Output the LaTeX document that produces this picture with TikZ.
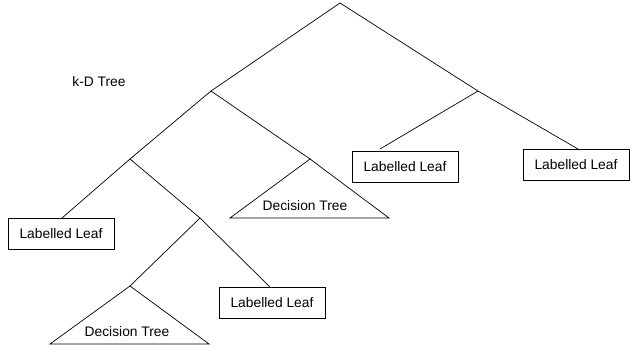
\documentclass[tikz,border=0pt]{standalone}
\usepackage{fontspec}
\setmainfont{Liberation Sans}
\begin{document}
\begin{tikzpicture}[x=1pt,y=-1pt,
  edge/.style={draw=black,line width=0.7pt},
  leafbox/.style={draw=black,line width=0.7pt,rectangle,minimum width=106pt,minimum height=31pt,inner sep=0pt,font=\fontsize{13.8}{16}\selectfont},
  lbl/.style={inner sep=0pt,font=\fontsize{13.8}{16}\selectfont}]
\useasboundingbox (0,0) rectangle (638,347);
% internal points
\coordinate (r) at (340,3);
\coordinate (a) at (211,91);
\coordinate (c) at (478,91);
\coordinate (d) at (130,159);
\coordinate (e) at (200,218);
% leaves
\node[leafbox] (b1) at (61,233.5) {Labelled Leaf};
\node[leafbox] (b2) at (272,303) {Labelled Leaf};
\node[leafbox] (b3) at (405,166.5) {Labelled Leaf};
\node[leafbox] (b4) at (576,164.5) {Labelled Leaf};
\coordinate (b1t) at (62,218);
\coordinate (b2t) at (270,287);
\coordinate (b3t) at (380,149);
\coordinate (b4t) at (578,149);
% decision triangles
\coordinate (t1a) at (310,159);
\coordinate (t1l) at (230,218);
\coordinate (t1r) at (389,218);
\coordinate (t2a) at (130,286);
\coordinate (t2l) at (50,344);
\coordinate (t2r) at (209,344);
\draw[edge,line join=miter] (t1a) -- (t1l) -- (t1r) -- cycle;
\draw[edge,line join=miter] (t2a) -- (t2l) -- (t2r) -- cycle;
\node[lbl] (t1) at (305,206) {Decision Tree};
\node[lbl] (t2) at (127,332) {Decision Tree};
\node[lbl] (title) at (99,82) {k-D Tree};
% edges
\draw[edge] (a) -- (r) -- (c);
\draw[edge] (d) -- (a) -- (t1a);
\draw[edge] (b1t) -- (d) -- (e);
\draw[edge] (t2a) -- (e) -- (b2t);
\draw[edge] (b3t) -- (c) -- (b4t);
\end{tikzpicture}
\end{document}
